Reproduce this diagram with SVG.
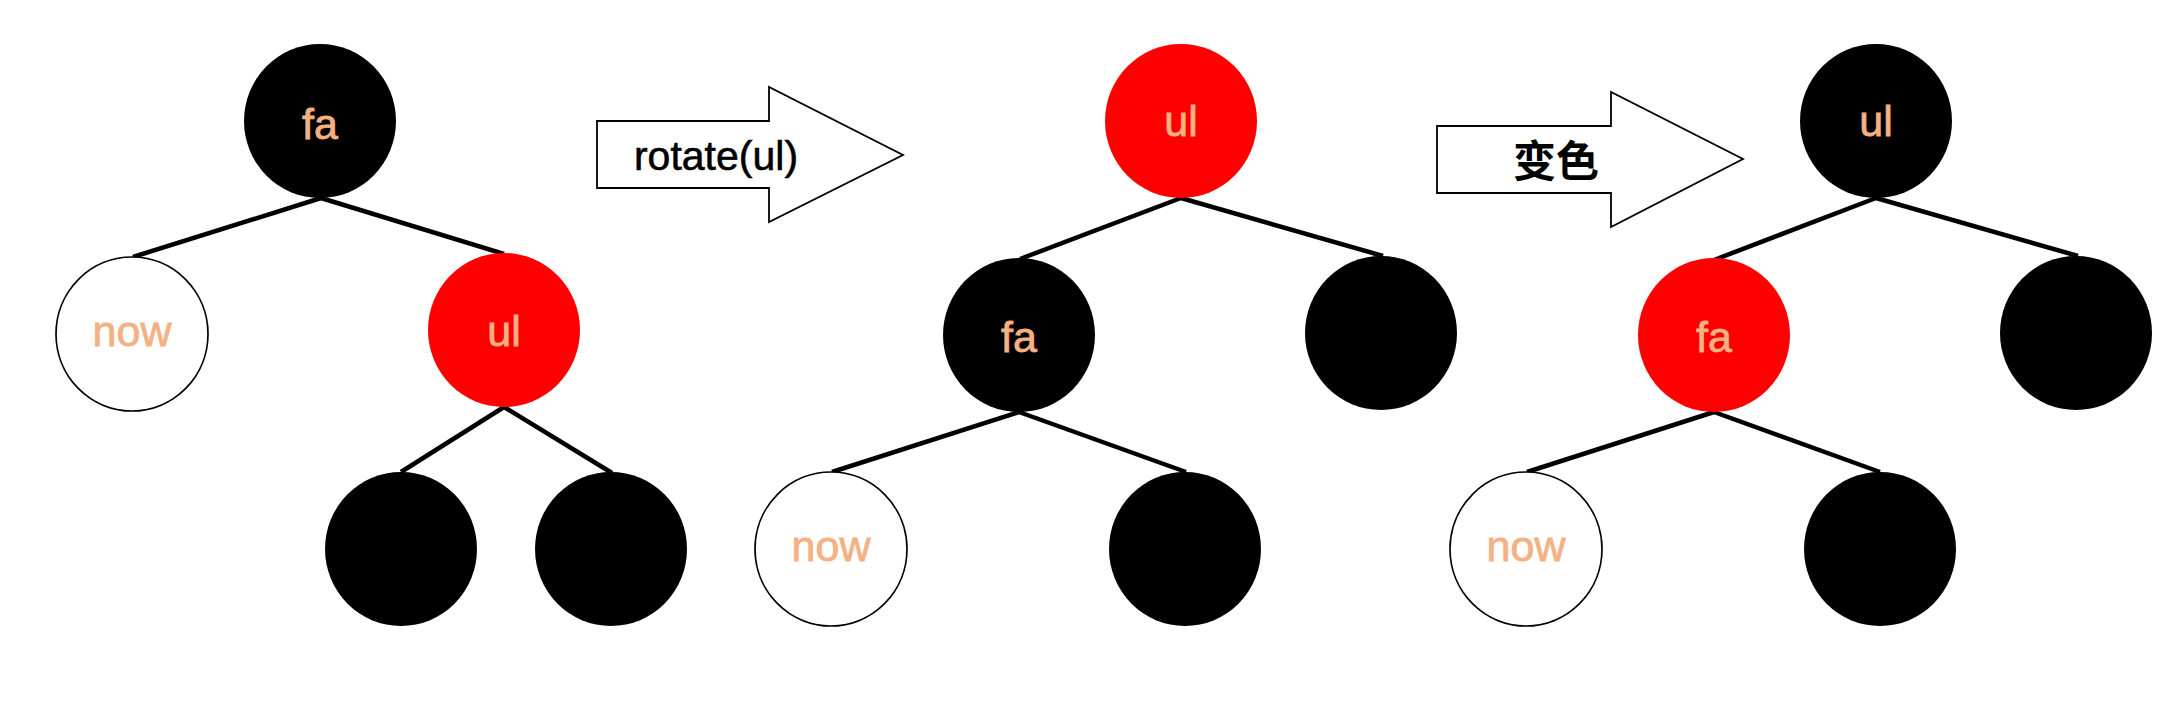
<svg xmlns="http://www.w3.org/2000/svg" width="2174" height="704" viewBox="0 0 2174 704">
  <style>
    .blk { fill: #000000; }
    .red { fill: #FF0000; }
    .wht { fill: #FFFFFF; stroke: #000000; stroke-width: 1.7; }
    .lbl { font-family: "Liberation Sans", Arial, sans-serif; font-size: 43px; fill: #F4B183; stroke: #F4B183; stroke-width: 0.8; text-anchor: middle; }
    .edge { stroke: #000000; stroke-width: 4.5; stroke-linecap: butt; fill: none; }
    .arrow { fill: #FFFFFF; stroke: #000000; stroke-width: 1.8; }
    .atxt { font-family: "Liberation Sans", Arial, sans-serif; font-size: 41px; fill: #000000; stroke: #000000; stroke-width: 0.6; text-anchor: middle; }
    .ctxt { font-family: "Noto Sans CJK SC", "Noto Sans", sans-serif; font-size: 43px; font-weight: bold; fill: #000000; text-anchor: middle; }
  </style>
  <rect x="0" y="0" width="2174" height="704" fill="#FFFFFF"/>

  <g id="connectors">
    <!-- tree 1 -->
    <line class="edge" x1="321" y1="198" x2="133" y2="257"/>
    <line class="edge" x1="321" y1="198" x2="504" y2="254"/>
    <line class="edge" x1="504" y1="407" x2="401" y2="472"/>
    <line class="edge" x1="504" y1="407" x2="612" y2="473"/>
    <!-- tree 2 -->
    <line class="edge" x1="1181" y1="198" x2="1020" y2="259"/>
    <line class="edge" x1="1181" y1="198" x2="1383" y2="256"/>
    <line class="edge" x1="1019" y1="412" x2="832" y2="472"/>
    <line class="edge" x1="1019" y1="412" x2="1186" y2="472"/>
    <!-- tree 3 -->
    <line class="edge" x1="1876" y1="198" x2="1714" y2="260"/>
    <line class="edge" x1="1876" y1="198" x2="2078" y2="256"/>
    <line class="edge" x1="1714" y1="412" x2="1527" y2="472"/>
    <line class="edge" x1="1714" y1="412" x2="1880" y2="472"/>
  </g>

  <!-- tree 1 -->
  <g id="t1-fa"><ellipse class="blk" cx="320" cy="121" rx="76" ry="77"/><text class="lbl" x="320" y="139">fa</text></g>
  <g id="t1-now"><ellipse class="wht" cx="132" cy="334" rx="76" ry="77"/><text class="lbl" x="132" y="346">now</text></g>
  <g id="t1-ul"><ellipse class="red" cx="504" cy="330" rx="76" ry="77"/><text class="lbl" x="504" y="346">ul</text></g>
  <g id="t1-bl"><ellipse class="blk" cx="401" cy="549" rx="76" ry="77"/></g>
  <g id="t1-br"><ellipse class="blk" cx="611" cy="549" rx="76" ry="77"/></g>

  <!-- arrow 1 -->
  <g id="arrow-rotate">
    <path class="arrow" d="M597,121 H769 V87 L903,155 L769,222 V188 H597 Z"/>
    <text class="atxt" x="716" y="170">rotate(ul)</text>
  </g>

  <!-- tree 2 -->
  <g id="t2-ul"><ellipse class="red" cx="1181" cy="121" rx="76" ry="77"/><text class="lbl" x="1181" y="136">ul</text></g>
  <g id="t2-fa"><ellipse class="blk" cx="1019" cy="335" rx="76" ry="77"/><text class="lbl" x="1019" y="352">fa</text></g>
  <g id="t2-r"><ellipse class="blk" cx="1381" cy="333" rx="76" ry="77"/></g>
  <g id="t2-now"><ellipse class="wht" cx="831" cy="549" rx="76" ry="77"/><text class="lbl" x="831" y="561">now</text></g>
  <g id="t2-b"><ellipse class="blk" cx="1185" cy="549" rx="76" ry="77"/></g>

  <!-- arrow 2 -->
  <g id="arrow-recolor">
    <path class="arrow" d="M1437,126 H1611 V92 L1743,159 L1611,227 V193 H1437 Z"/>
    <text class="ctxt" x="1556" y="177">变色</text>
  </g>

  <!-- tree 3 -->
  <g id="t3-ul"><ellipse class="blk" cx="1876" cy="121" rx="76" ry="77"/><text class="lbl" x="1876" y="136">ul</text></g>
  <g id="t3-fa"><ellipse class="red" cx="1714" cy="335" rx="76" ry="77"/><text class="lbl" x="1714" y="352">fa</text></g>
  <g id="t3-r"><ellipse class="blk" cx="2076" cy="333" rx="76" ry="77"/></g>
  <g id="t3-now"><ellipse class="wht" cx="1526" cy="549" rx="76" ry="77"/><text class="lbl" x="1526" y="561">now</text></g>
  <g id="t3-b"><ellipse class="blk" cx="1880" cy="549" rx="76" ry="77"/></g>
</svg>
